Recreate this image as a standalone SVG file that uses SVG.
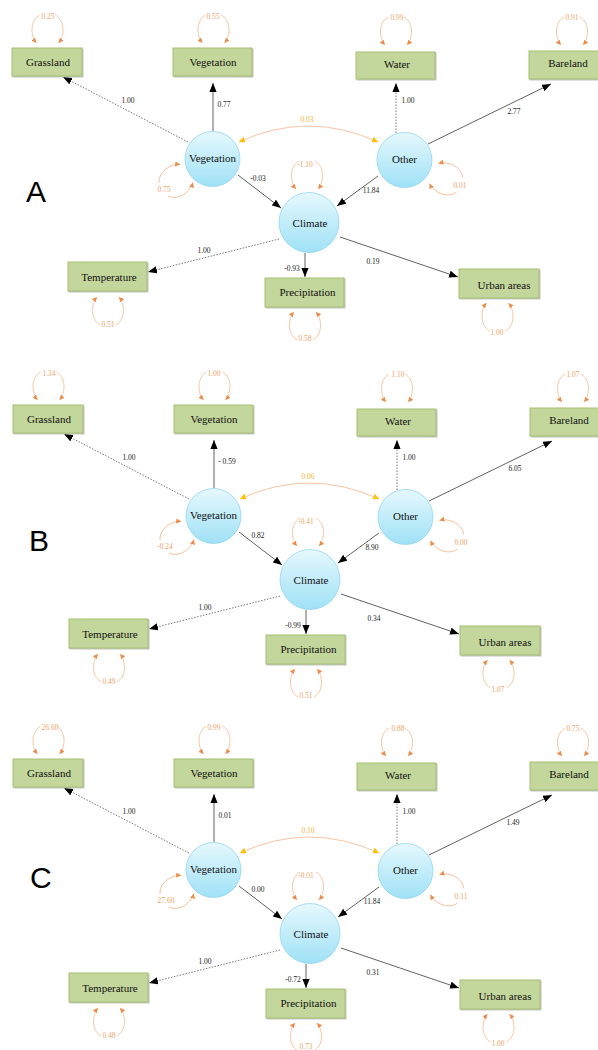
<svg xmlns="http://www.w3.org/2000/svg" xmlns:xlink="http://www.w3.org/1999/xlink" width="598" height="1050" viewBox="0 0 598 1050">
<style>
.box{fill:#c3d69b;stroke:#a6bf70;stroke-width:1;filter:url(#sh)}
.lat{fill:url(#lg);stroke:#94d6ec;stroke-width:0.8}
.nl{font-family:"Liberation Serif","Times New Roman",serif;font-size:11px;fill:#111;text-anchor:middle}
.v{font-family:"Liberation Serif","Times New Roman",serif;font-size:7.5px;fill:#222;text-anchor:middle}
.ov{font-family:"Liberation Serif","Times New Roman",serif;font-size:7.5px;fill:#f0a46a;text-anchor:middle}
.cv{font-family:"Liberation Serif","Times New Roman",serif;font-size:7.5px;fill:#f2b33a;text-anchor:middle}
.sol{stroke:#3a3a3a;stroke-width:0.8;fill:none;marker-end:url(#ah)}
.dot{stroke:#555;stroke-width:0.8;stroke-dasharray:1.5 1.5;fill:none;marker-end:url(#ah)}
.lp{stroke:#f5b68c;stroke-width:0.8;fill:none}
.cov{stroke:#f5b68c;stroke-width:0.8;fill:none;marker-start:url(#ya);marker-end:url(#ya)}
.pl{font-family:"Liberation Sans",Arial,sans-serif;font-size:30px;fill:#000}
</style>
<defs>
<linearGradient id="lg" x1="0" y1="0" x2="0" y2="1">
<stop offset="0" stop-color="#e6f8fd"/>
<stop offset="1" stop-color="#9fe1f6"/>
</linearGradient>
<filter id="sh" x="-10%" y="-10%" width="130%" height="140%">
<feDropShadow dx="1" dy="1" stdDeviation="0.6" flood-color="#888" flood-opacity="0.5"/>
</filter>
<marker id="ah" viewBox="0 0 10 8" refX="10" refY="4" markerWidth="9" markerHeight="7.2" markerUnits="userSpaceOnUse" orient="auto">
<path d="M0,0 L10,4 L0,8 z" fill="#000"/>
</marker>
<marker id="oa" viewBox="0 0 10 10" refX="10" refY="5" markerWidth="5" markerHeight="5" markerUnits="userSpaceOnUse" orient="auto-start-reverse">
<path d="M0,0 L10,5 L0,10 z" fill="#ed8b4a"/>
</marker>
<marker id="ya" viewBox="0 0 10 10" refX="10" refY="5" markerWidth="6" markerHeight="6" markerUnits="userSpaceOnUse" orient="auto-start-reverse">
<path d="M0,0 L10,5 L0,10 z" fill="#ffc000"/>
</marker>
<g id="lp">
<path class="lp" d="M-11,0 C-17,-7 -18,-22 -8,-28" marker-start="url(#oa)"/>
<path class="lp" d="M8,-28 C18,-22 17,-7 11,0" marker-end="url(#oa)"/>
</g>
</defs>
<rect width="598" height="1050" fill="#fff"/>

<text class="pl" x="26" y="202">A</text>
<text class="pl" x="29" y="551">B</text>
<text class="pl" x="30" y="888">C</text>

<!-- ================= Panel A ================= -->
<g id="panelA">
<g id="A-connectors">
<path class="dot" d="M188,142 L63,77"/>
<path class="sol" d="M213,131 L213,83"/>
<path class="dot" d="M396,133 L396,83"/>
<path class="sol" d="M428,144 L551,84"/>
<path class="sol" d="M238,175 L281,208"/>
<path class="sol" d="M378,176 L337,206"/>
<path class="dot" d="M279,239 L148,272"/>
<path class="sol" d="M305,253 L305,277"/>
<path class="sol" d="M340,237 L458,277"/>
<path class="cov" d="M239,142 Q308,110 378,142"/>
<use href="#lp" transform="translate(47.5,43)"/>
<use href="#lp" transform="translate(213.5,43)"/>
<use href="#lp" transform="translate(396,45)"/>
<use href="#lp" transform="translate(572,45)"/>
<use href="#lp" transform="translate(307,189)"/>
<use href="#lp" transform="translate(108,297) scale(1,-1)"/>
<use href="#lp" transform="translate(305,312) scale(1,-1)"/>
<use href="#lp" transform="translate(497.5,303) scale(1,-1)"/>
<use href="#lp" transform="translate(186.5,173.5) rotate(-125)"/>
<use href="#lp" transform="translate(434,173.5) rotate(114)"/>
<text class="v" x="128" y="102.5">1.00</text>
<text class="v" x="224" y="106.5">0.77</text>
<text class="v" x="408" y="102.5">1.00</text>
<text class="v" x="514" y="113.5">2.77</text>
<text class="cv" x="307" y="121.5">0.03</text>
<text class="v" x="258" y="180.5">-0.03</text>
<text class="v" x="371" y="193">11.84</text>
<text class="v" x="204" y="252.5">1.00</text>
<text class="v" x="292" y="270.5">-0.93</text>
<text class="v" x="373" y="263.5">0.19</text>
<text class="ov" x="48" y="18.5">0.25</text>
<text class="ov" x="213" y="18.5">0.55</text>
<text class="ov" x="397" y="19.5">0.99</text>
<text class="ov" x="572" y="19.5">0.91</text>
<text class="ov" x="305" y="166.5">-1.10</text>
<text class="ov" x="164" y="191.5">0.75</text>
<text class="ov" x="460" y="187.5">0.01</text>
<text class="ov" x="108" y="326.5">0.51</text>
<text class="ov" x="305" y="340.5">0.58</text>
<text class="ov" x="497" y="334.5">1.00</text>
</g>
<g id="A-grassland"><rect class="box" x="12" y="48" width="70" height="28"/><text class="nl" x="48" y="66">Grassland</text></g>
<g id="A-vegetation-obs"><rect class="box" x="173" y="48" width="79" height="28"/><text class="nl" x="213" y="66">Vegetation</text></g>
<g id="A-water"><rect class="box" x="356" y="52" width="79" height="27"/><text class="nl" x="397" y="67.5">Water</text></g>
<g id="A-bareland"><rect class="box" x="529" y="51" width="79" height="28"/><text class="nl" x="568" y="67">Bareland</text></g>
<g id="A-vegetation"><circle class="lat" cx="212.5" cy="159" r="27.5"/><text class="nl" x="212.5" y="162">Vegetation</text></g>
<g id="A-other"><circle class="lat" cx="404.5" cy="160" r="27.5"/><text class="nl" x="404.5" y="162.5">Other</text></g>
<g id="A-climate"><circle class="lat" cx="309" cy="222.5" r="30"/><text class="nl" x="310" y="227">Climate</text></g>
<g id="A-temperature"><rect class="box" x="68" y="262" width="79" height="29"/><text class="nl" x="109" y="280.5">Temperature</text></g>
<g id="A-precipitation"><rect class="box" x="265" y="278" width="79" height="29"/><text class="nl" x="307.5" y="295.5">Precipitation</text></g>
<g id="A-urban"><rect class="box" x="459" y="269" width="80" height="29"/><text class="nl" x="504" y="289">Urban areas</text></g>
</g>

<!-- ================= Panel B ================= -->
<g id="panelB" transform="translate(1,357)">
<g id="B-connectors">
<path class="dot" d="M188,142 L63,77"/>
<path class="sol" d="M213,131 L213,83"/>
<path class="dot" d="M396,133 L396,83"/>
<path class="sol" d="M428,144 L551,84"/>
<path class="sol" d="M238,175 L281,208"/>
<path class="sol" d="M378,176 L337,206"/>
<path class="dot" d="M279,239 L148,272"/>
<path class="sol" d="M305,253 L305,277"/>
<path class="sol" d="M340,237 L458,277"/>
<path class="cov" d="M239,142 Q308,110 378,142"/>
<use href="#lp" transform="translate(47.5,43)"/>
<use href="#lp" transform="translate(213.5,43)"/>
<use href="#lp" transform="translate(396,45)"/>
<use href="#lp" transform="translate(572,45)"/>
<use href="#lp" transform="translate(307,189)"/>
<use href="#lp" transform="translate(108,297) scale(1,-1)"/>
<use href="#lp" transform="translate(305,312) scale(1,-1)"/>
<use href="#lp" transform="translate(497.5,303) scale(1,-1)"/>
<use href="#lp" transform="translate(186.5,173.5) rotate(-125)"/>
<use href="#lp" transform="translate(434,173.5) rotate(114)"/>
<text class="v" x="128" y="102.5">1.00</text>
<text class="v" x="226" y="106.5">- 0.59</text>
<text class="v" x="408" y="102.5">1.00</text>
<text class="v" x="514" y="113.5">6.05</text>
<text class="cv" x="307" y="121.5">0.06</text>
<text class="v" x="257" y="180.5">0.82</text>
<text class="v" x="371" y="193">8.90</text>
<text class="v" x="204" y="252.5">1.00</text>
<text class="v" x="292" y="270.5">-0.99</text>
<text class="v" x="373" y="263.5">0.34</text>
<text class="ov" x="48" y="18.5">1.34</text>
<text class="ov" x="213" y="18.5">1.00</text>
<text class="ov" x="397" y="19.5">1.10</text>
<text class="ov" x="572" y="19.5">1.07</text>
<text class="ov" x="305" y="166.5">-0.41</text>
<text class="ov" x="164" y="191.5">-0.24</text>
<text class="ov" x="460" y="187.5">0.00</text>
<text class="ov" x="108" y="326.5">0.49</text>
<text class="ov" x="305" y="340.5">0.51</text>
<text class="ov" x="497" y="334.5">1.07</text>
</g>
<g id="B-grassland"><rect class="box" x="12" y="48" width="70" height="28"/><text class="nl" x="48" y="66">Grassland</text></g>
<g id="B-vegetation-obs"><rect class="box" x="173" y="48" width="79" height="28"/><text class="nl" x="213" y="66">Vegetation</text></g>
<g id="B-water"><rect class="box" x="356" y="52" width="79" height="27"/><text class="nl" x="397" y="67.5">Water</text></g>
<g id="B-bareland"><rect class="box" x="529" y="51" width="79" height="28"/><text class="nl" x="568" y="67">Bareland</text></g>
<g id="B-vegetation"><circle class="lat" cx="212.5" cy="159" r="27.5"/><text class="nl" x="212.5" y="162">Vegetation</text></g>
<g id="B-other"><circle class="lat" cx="404.5" cy="160" r="27.5"/><text class="nl" x="404.5" y="162.5">Other</text></g>
<g id="B-climate"><circle class="lat" cx="309" cy="222.5" r="30"/><text class="nl" x="310" y="227">Climate</text></g>
<g id="B-temperature"><rect class="box" x="68" y="262" width="79" height="29"/><text class="nl" x="109" y="280.5">Temperature</text></g>
<g id="B-precipitation"><rect class="box" x="265" y="278" width="79" height="29"/><text class="nl" x="307.5" y="295.5">Precipitation</text></g>
<g id="B-urban"><rect class="box" x="459" y="269" width="80" height="29"/><text class="nl" x="504" y="289">Urban areas</text></g>
</g>

<!-- ================= Panel C ================= -->
<g id="panelC" transform="translate(1,711)">
<g id="C-connectors">
<path class="dot" d="M188,142 L63,77"/>
<path class="sol" d="M213,131 L213,83"/>
<path class="dot" d="M396,133 L396,83"/>
<path class="sol" d="M428,144 L551,84"/>
<path class="sol" d="M238,175 L281,208"/>
<path class="sol" d="M378,176 L337,206"/>
<path class="dot" d="M279,239 L148,272"/>
<path class="sol" d="M305,253 L305,277"/>
<path class="sol" d="M340,237 L458,277"/>
<path class="cov" d="M239,142 Q308,110 378,142"/>
<use href="#lp" transform="translate(47.5,43)"/>
<use href="#lp" transform="translate(213.5,43)"/>
<use href="#lp" transform="translate(396,45)"/>
<use href="#lp" transform="translate(572,45)"/>
<use href="#lp" transform="translate(307,189)"/>
<use href="#lp" transform="translate(108,297) scale(1,-1)"/>
<use href="#lp" transform="translate(305,312) scale(1,-1)"/>
<use href="#lp" transform="translate(497.5,303) scale(1,-1)"/>
<use href="#lp" transform="translate(186.5,173.5) rotate(-125)"/>
<use href="#lp" transform="translate(434,173.5) rotate(114)"/>
<text class="v" x="128" y="102.5">1.00</text>
<text class="v" x="224" y="106.5">0.01</text>
<text class="v" x="408" y="102.5">1.00</text>
<text class="v" x="512" y="113.5">1.49</text>
<text class="cv" x="307" y="121.5">0.10</text>
<text class="v" x="257" y="180.5">0.00</text>
<text class="v" x="371" y="193">11.84</text>
<text class="v" x="204" y="252.5">1.00</text>
<text class="v" x="292" y="270.5">-0.72</text>
<text class="v" x="372" y="263.5">0.31</text>
<text class="ov" x="49" y="18.5">26.60</text>
<text class="ov" x="213" y="18.5">0.99</text>
<text class="ov" x="397" y="19.5">0.88</text>
<text class="ov" x="572" y="19.5">0.75</text>
<text class="ov" x="305" y="166.5">-0.01</text>
<text class="ov" x="165" y="191.5">27.60</text>
<text class="ov" x="460" y="187.5">0.11</text>
<text class="ov" x="108" y="326.5">0.48</text>
<text class="ov" x="305" y="338">0.73</text>
<text class="ov" x="497" y="334.5">1.00</text>
</g>
<g id="C-grassland"><rect class="box" x="12" y="48" width="70" height="28"/><text class="nl" x="48" y="66">Grassland</text></g>
<g id="C-vegetation-obs"><rect class="box" x="173" y="48" width="79" height="28"/><text class="nl" x="213" y="66">Vegetation</text></g>
<g id="C-water"><rect class="box" x="356" y="52" width="79" height="27"/><text class="nl" x="397" y="67.5">Water</text></g>
<g id="C-bareland"><rect class="box" x="529" y="51" width="79" height="28"/><text class="nl" x="568" y="67">Bareland</text></g>
<g id="C-vegetation"><circle class="lat" cx="212.5" cy="159" r="27.5"/><text class="nl" x="212.5" y="162">Vegetation</text></g>
<g id="C-other"><circle class="lat" cx="404.5" cy="160" r="27.5"/><text class="nl" x="404.5" y="162.5">Other</text></g>
<g id="C-climate"><circle class="lat" cx="309" cy="222.5" r="30"/><text class="nl" x="310" y="227">Climate</text></g>
<g id="C-temperature"><rect class="box" x="68" y="262" width="79" height="29"/><text class="nl" x="109" y="280.5">Temperature</text></g>
<g id="C-precipitation"><rect class="box" x="265" y="278" width="79" height="29"/><text class="nl" x="307.5" y="295.5">Precipitation</text></g>
<g id="C-urban"><rect class="box" x="459" y="269" width="80" height="29"/><text class="nl" x="504" y="289">Urban areas</text></g>
</g>
</svg>
